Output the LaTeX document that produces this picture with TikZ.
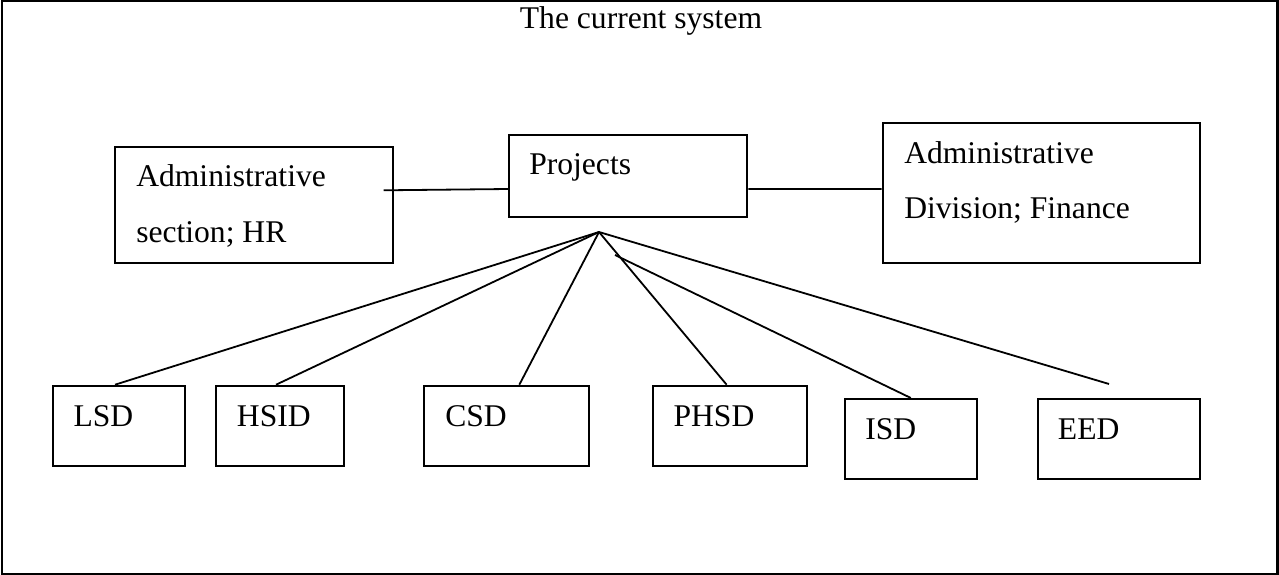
\documentclass[tikz,border=0pt]{standalone}
\usepackage{fontspec}
\setmainfont{Liberation Serif}
\begin{document}
\begin{tikzpicture}[x=0.75pt,y=-0.75pt,
  box/.style={draw,line width=1.5pt,inner sep=0pt,rectangle},
  txt/.style={anchor=base west,inner sep=0pt,font=\fontsize{23.7}{28}\selectfont},
  link/.style={line width=1.35pt}]
\useasboundingbox (0,0) rectangle (1279,575);
% outer frame
\draw[line width=1.65pt] (1.8,1.3) rectangle (1277.5,573.8);
\node[anchor=base,inner sep=0pt,font=\fontsize{23.7}{28}\selectfont] (title) at (641,28.3) {The current system};

% top row
\node[box,minimum width=208.7pt,minimum height=87pt] (hr) at (253.85,204.7) {};
\node[box,minimum width=178.7pt,minimum height=61.5pt] (proj) at (628.15,175.7) {};
\node[box,minimum width=238pt,minimum height=105pt] (fin) at (1041.35,192.7) {};
\node[txt] (hrA) at (136,186.7) {Administrative};
\node[txt] (hrB) at (136,242) {section; HR};
\node[txt] (projT) at (529,174) {Projects};
\node[txt] (finA) at (904,163) {Administrative};
\node[txt] (finB) at (904,218) {Division; Finance};

% bottom row
\node[box,minimum width=99.5pt,minimum height=60.2pt] (lsd) at (119,425.85) {};
\node[box,minimum width=96pt,minimum height=60.2pt] (hsid) at (280,425.85) {};
\node[box,minimum width=123.8pt,minimum height=60.2pt] (csd) at (506.8,425.85) {};
\node[box,minimum width=115.7pt,minimum height=60.2pt] (phsd) at (729.85,425.85) {};
\node[box,minimum width=99.2pt,minimum height=59.8pt] (isd) at (910.85,438.85) {};
\node[box,minimum width=121.7pt,minimum height=59.8pt] (eed) at (1118.85,438.85) {};
\node[txt] (lsdT) at (73.3,426) {LSD};
\node[txt] (hsidT) at (236.7,426) {HSID};
\node[txt] (csdT) at (445,426) {CSD};
\node[txt] (phsdT) at (673.3,426) {PHSD};
\node[txt] (isdT) at (865,439.3) {ISD};
\node[txt] (eedT) at (1057.7,439.3) {EED};

% connectors
\coordinate (apex) at ([shift={(-29.15,14.3)}]proj.south);
\coordinate (isdstart) at (615,255);
\coordinate (eedend) at ([shift={(-9.85,-14)}]eed.north);
\draw[link] ([shift={(-10.3,-14.4)}]hr.east) -- ([shift={(0,13.3)}]proj.west);
\draw[link] ([shift={(0,13.3)}]proj.east) -- ([shift={(0,-3.7)}]fin.west);
\draw[link] (apex) -- ([xshift=-3pt]lsd.north);
\draw[link] (apex) -- ([xshift=-3pt]hsid.north);
\draw[link] (apex) -- ([xshift=9.4pt]csd.north);
\draw[link] (apex) -- ([xshift=-2.4pt]phsd.north);
\draw[link] (isdstart) -- (isd.north);
\draw[link] (apex) -- (eedend);
\end{tikzpicture}
\end{document}
